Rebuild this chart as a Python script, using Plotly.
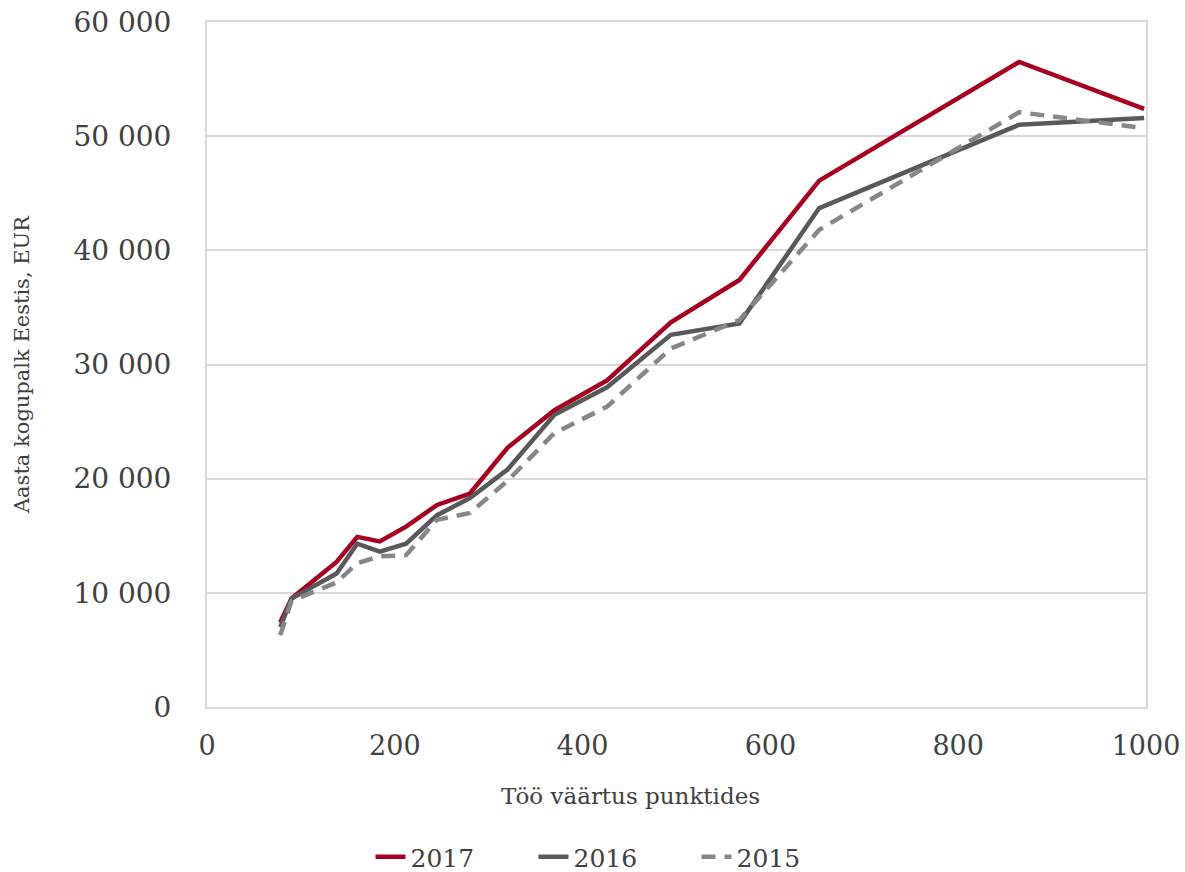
import plotly.graph_objects as go

points = [78, 90, 138, 160, 184, 212, 245, 280, 320, 370, 426, 494, 567, 652, 865, 998]
pay_2017 = [7400, 9500, 12700, 14900, 14500, 15800, 17700, 18700, 22700, 26000, 28600, 33700, 37400, 46100, 56500, 52400]
pay_2016 = [7000, 9500, 11700, 14300, 13600, 14300, 16800, 18300, 20800, 25600, 28000, 32600, 33600, 43700, 51000, 51600]
pay_2015 = [6300, 9300, 10900, 12600, 13200, 13300, 16400, 17000, 19800, 24000, 26300, 31400, 33900, 41800, 52100, 50700]

FONT = "Georgia, 'DejaVu Serif', serif"
TXT = "#404040"

fig = go.Figure()
fig.add_trace(go.Scatter(x=points, y=pay_2017, name="2017", mode="lines",
                         line=dict(color="#A50021", width=4.5)))
fig.add_trace(go.Scatter(x=points, y=pay_2016, name="2016", mode="lines",
                         line=dict(color="#595959", width=4.5)))
fig.add_trace(go.Scatter(x=points, y=pay_2015, name="2015", mode="lines",
                         line=dict(color="#878787", width=4.5, dash="14px,9px")))

fig.update_layout(
    width=1185, height=872,
    margin=dict(l=207, r=39, t=22, b=165, autoexpand=False),
    paper_bgcolor="white", plot_bgcolor="white",
    separators=". ",
    font=dict(family=FONT, color=TXT, size=24),
    showlegend=True,
    legend=dict(orientation="h", x=0.4345, xanchor="center", y=-0.219, yanchor="middle",
                font=dict(size=25, color=TXT, family=FONT), traceorder="normal",
                entrywidth=118, entrywidthmode="pixels"),
    xaxis=dict(range=[0, 1000], tickvals=[0, 200, 400, 600, 800, 1000], tickformat="d",
               showgrid=False, zeroline=False, showline=True, linecolor="#d9d9d9",
               linewidth=2, mirror=True, ticks="", ticklabelstandoff=14, automargin=False,
               ticklabeloverflow="allow",
               tickfont=dict(size=27, color=TXT, family=FONT)),
    yaxis=dict(range=[0, 60000], tickvals=[0, 10000, 20000, 30000, 40000, 50000, 60000],
               tickformat=",d", showgrid=True, gridcolor="#d9d9d9", gridwidth=2,
               zeroline=False, showline=True, linecolor="#d9d9d9", linewidth=2, mirror=True,
               ticks="", ticklabelstandoff=28, automargin=False, ticklabeloverflow="allow",
               tickfont=dict(size=28, color=TXT, family=FONT),
               title=dict(text="Aasta kogupalk Eestis, EUR", standoff=38,
                          font=dict(size=21, color=TXT, family=FONT))),
    annotations=[dict(text="Töö väärtus punktides", xref="paper", yref="paper",
                      x=0.4515, y=-0.13, xanchor="center", yanchor="middle",
                      showarrow=False, font=dict(size=23, color=TXT, family=FONT))],
)

fig.write_html("out.html", config={"displayModeBar": False},
               post_script="document.body.style.margin='0px';")
